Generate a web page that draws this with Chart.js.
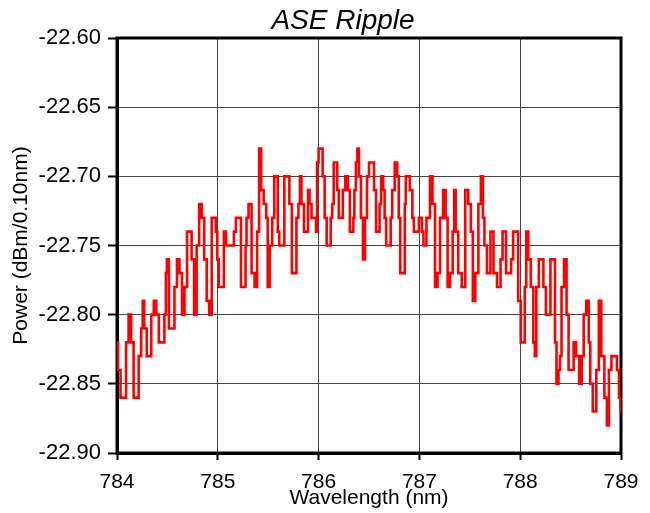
<!DOCTYPE html>
<html><head><meta charset="utf-8">
<script src="https://cdn.jsdelivr.net/npm/chart.js@4/dist/chart.umd.min.js"></script>
<style>html,body{margin:0;padding:0;background:#fff}canvas{display:block}</style>
</head><body>
<canvas id="c" width="650" height="513"></canvas>
<script>
const chartTitle = "ASE Ripple";
const xTitle = "Wavelength (nm)";
const yTitle = "Power (dBm/0.10nm)";
const xTicks = [784, 785, 786, 787, 788, 789];
const yTicks = [-22.90, -22.85, -22.80, -22.75, -22.70, -22.65, -22.60];

const wavelengths = [
784.00,784.02,784.05,784.08,784.10,784.13,784.15,784.18,784.20,784.23,784.25,784.26,784.28,784.31,784.33,784.35,784.38,784.40,784.43,784.46,
784.48,784.49,784.50,784.53,784.56,784.58,784.61,784.63,784.66,784.68,784.71,784.73,784.75,784.78,784.80,784.83,784.85,784.88,784.90,784.93,
784.95,784.97,784.99,785.00,785.02,785.05,785.07,785.09,785.11,785.15,785.17,785.19,785.22,785.24,785.27,785.28,785.29,785.32,785.35,785.38,
785.40,785.42,785.44,785.47,785.49,785.50,785.53,785.55,785.57,785.59,785.60,785.62,785.65,785.67,785.70,785.72,785.75,785.77,785.79,785.81,
785.82,785.84,785.87,785.89,785.90,785.92,785.94,785.97,785.98,785.99,786.01,786.03,786.05,786.07,786.09,786.11,786.13,786.14,786.16,786.18,
786.19,786.21,786.23,786.25,786.28,786.30,786.32,786.34,786.35,786.36,786.38,786.39,786.41,786.43,786.45,786.47,786.49,786.51,786.54,786.56,
786.58,786.60,786.61,786.63,786.65,786.66,786.68,786.71,786.72,786.74,786.77,786.79,786.80,786.82,786.85,786.86,786.87,786.89,786.92,786.94,
786.95,786.99,787.00,787.02,787.03,787.05,787.09,787.12,787.14,787.17,787.19,787.22,787.25,787.27,787.29,787.32,787.34,787.35,787.37,787.40,
787.44,787.47,787.50,787.52,787.54,787.57,787.60,787.62,787.64,787.65,787.69,787.72,787.75,787.79,787.82,787.83,787.85,787.87,787.90,787.92,
787.94,787.97,787.99,788.02,788.04,788.05,788.07,788.09,788.12,788.14,788.15,788.17,788.20,788.22,788.24,788.27,788.29,788.31,788.34,788.35,
788.37,788.39,788.40,788.42,788.45,788.47,788.49,788.52,788.54,788.57,788.60,788.62,788.64,788.67,788.69,788.70,788.74,788.77,788.79,788.82,
788.85,788.87,788.89,788.92,788.95,788.97,788.99,789.00
];
const powers = [
-22.82,-22.84,-22.86,-22.86,-22.82,-22.80,-22.82,-22.86,-22.86,-22.83,-22.81,-22.79,-22.81,-22.83,-22.83,-22.80,-22.79,-22.80,-22.82,-22.82,
-22.80,-22.77,-22.76,-22.81,-22.81,-22.78,-22.76,-22.77,-22.80,-22.78,-22.74,-22.74,-22.76,-22.80,-22.75,-22.72,-22.73,-22.76,-22.79,-22.80,
-22.73,-22.73,-22.74,-22.76,-22.78,-22.78,-22.74,-22.75,-22.75,-22.75,-22.74,-22.73,-22.73,-22.78,-22.78,-22.75,-22.73,-22.72,-22.77,-22.78,
-22.74,-22.68,-22.71,-22.72,-22.73,-22.78,-22.75,-22.73,-22.70,-22.70,-22.74,-22.75,-22.75,-22.70,-22.70,-22.72,-22.77,-22.77,-22.73,-22.72,
-22.70,-22.72,-22.74,-22.74,-22.71,-22.72,-22.73,-22.73,-22.74,-22.69,-22.68,-22.68,-22.70,-22.73,-22.75,-22.75,-22.73,-22.72,-22.69,-22.69,
-22.71,-22.73,-22.73,-22.71,-22.70,-22.71,-22.74,-22.74,-22.73,-22.71,-22.69,-22.68,-22.70,-22.73,-22.76,-22.73,-22.70,-22.69,-22.69,-22.71,
-22.74,-22.74,-22.72,-22.70,-22.71,-22.73,-22.75,-22.75,-22.73,-22.71,-22.69,-22.70,-22.73,-22.77,-22.77,-22.72,-22.70,-22.70,-22.71,-22.73,
-22.74,-22.74,-22.73,-22.73,-22.74,-22.75,-22.73,-22.70,-22.72,-22.78,-22.77,-22.73,-22.71,-22.73,-22.78,-22.77,-22.74,-22.71,-22.74,-22.77,
-22.78,-22.71,-22.72,-22.74,-22.79,-22.77,-22.72,-22.70,-22.73,-22.75,-22.77,-22.74,-22.77,-22.78,-22.76,-22.74,-22.74,-22.77,-22.77,-22.76,
-22.74,-22.74,-22.79,-22.82,-22.82,-22.78,-22.74,-22.76,-22.78,-22.82,-22.83,-22.78,-22.76,-22.76,-22.78,-22.80,-22.80,-22.76,-22.76,-22.82,
-22.85,-22.84,-22.83,-22.78,-22.76,-22.80,-22.84,-22.84,-22.82,-22.83,-22.85,-22.83,-22.80,-22.79,-22.82,-22.85,-22.87,-22.84,-22.79,-22.83,
-22.86,-22.88,-22.84,-22.83,-22.83,-22.84,-22.86,-22.87
];

const FONT = "'Liberation Sans', Arial, sans-serif";

const frame = {
  id: 'frame',
  beforeDatasetsDraw(chart) {
    const a = chart.chartArea, ctx = chart.ctx;
    ctx.save();
    ctx.strokeStyle = '#000';
    ctx.lineWidth = 3;
    ctx.strokeRect(a.left, a.top, a.right - a.left, a.bottom - a.top);
    ctx.restore();
  },
  afterDraw(chart) {
    const ctx = chart.ctx;
    ctx.save();
    ctx.fillStyle = '#000';
    ctx.font = "italic 28px " + FONT;
    ctx.textAlign = 'center';
    ctx.textBaseline = 'alphabetic';
    ctx.fillText(chartTitle, 343, 29);
    ctx.restore();
  }
};

new Chart(document.getElementById('c'), {
  type: 'line',
  data: {
    datasets: [{
      data: wavelengths.map((w, i) => ({x: w, y: powers[i]})),
      borderColor: '#ff0000',
      borderWidth: 2.6,
      pointRadius: 0,
      tension: 0,
      stepped: 'middle',
      fill: false
    }]
  },
  options: {
    responsive: false,
    animation: false,
    layout: {padding: {left: 0, right: 29, top: 38, bottom: 0}},
    plugins: {
      legend: {display: false},
      tooltip: {enabled: false},
      title: {display: false}
    },
    scales: {
      x: {
        type: 'linear', min: 784, max: 789,
        afterBuildTicks: s => { s.ticks = xTicks.map(v => ({value: v})); },
        afterFit: s => { s.height = 60; },
        ticks: {color: '#000', font: {family: FONT, size: 21}, padding: 10, maxRotation: 0,
          callback: v => String(v)},
        grid: {color: '#444', lineWidth: 1, tickColor: '#000', tickLength: 7, tickWidth: 2},
        border: {color: '#000', width: 3},
        title: {display: true, text: xTitle, color: '#000', font: {family: FONT, size: 21}, padding: {top: 0, bottom: 2}}
      },
      y: {
        type: 'linear', min: -22.90, max: -22.60,
        afterBuildTicks: s => { s.ticks = yTicks.map(v => ({value: v})); },
        afterFit: s => { s.width = 117; },
        ticks: {color: '#000', font: {family: FONT, size: 22}, padding: 7,
          callback: v => Number(v).toFixed(2)},
        grid: {color: '#444', lineWidth: 1, tickColor: '#000', tickLength: 9, tickWidth: 2},
        border: {color: '#000', width: 3},
        title: {display: true, text: yTitle, color: '#000', font: {family: FONT, size: 21}, padding: {top: 9, bottom: 0}}
      }
    }
  },
  plugins: [frame]
});
</script>
</body></html>
